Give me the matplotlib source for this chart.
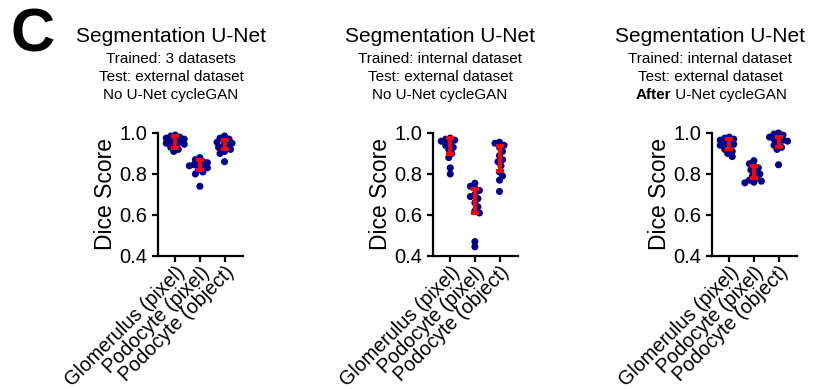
import numpy as np
import matplotlib
matplotlib.use("Agg")
import matplotlib.pyplot as plt

plt.rcParams['font.family'] = ['Liberation Sans', 'DejaVu Sans']

categories = ["Glomerulus (pixel)", "Podocyte (pixel)", "Podocyte (object)"]

p1_glom = [0.99, 0.985, 0.98, 0.975, 0.97, 0.965, 0.96, 0.955, 0.95, 0.945, 0.94, 0.93, 0.92, 0.91]
p1_podpix = [0.88, 0.87, 0.86, 0.855, 0.85, 0.845, 0.84, 0.835, 0.83, 0.82, 0.81, 0.80, 0.74]
p1_podobj = [0.985, 0.975, 0.97, 0.96, 0.955, 0.95, 0.94, 0.935, 0.93, 0.92, 0.91, 0.90, 0.86]
p1_mean = [0.956, 0.844, 0.944]
p1_sd = [0.029, 0.024, 0.022]

p2_glom = [0.975, 0.97, 0.965, 0.96, 0.95, 0.94, 0.93, 0.92, 0.90, 0.88, 0.83, 0.80]
p2_podpix = [0.755, 0.74, 0.73, 0.72, 0.70, 0.69, 0.68, 0.66, 0.64, 0.62, 0.61, 0.47, 0.445]
p2_podobj = [0.955, 0.95, 0.94, 0.93, 0.91, 0.89, 0.87, 0.86, 0.84, 0.81, 0.79, 0.77, 0.715]
p2_mean = [0.937, 0.668, 0.876]
p2_sd = [0.039, 0.058, 0.061]

p3_glom = [0.98, 0.975, 0.97, 0.965, 0.955, 0.95, 0.945, 0.94, 0.93, 0.92, 0.91, 0.90, 0.885]
p3_podpix = [0.865, 0.85, 0.84, 0.83, 0.82, 0.81, 0.80, 0.79, 0.78, 0.77, 0.765, 0.76, 0.757]
p3_podobj = [1.0, 0.995, 0.99, 0.98, 0.975, 0.97, 0.965, 0.96, 0.95, 0.94, 0.93, 0.92, 0.845]
p3_mean = [0.946, 0.81, 0.955]
p3_sd = [0.024, 0.03, 0.025]

titles = ["Segmentation U-Net"] * 3
sub1 = ["Trained: 3 datasets", "Trained: internal dataset", "Trained: internal dataset"]
sub2 = ["Test: external dataset"] * 3
sub3_bold = ["", "", "After"]
sub3_rest = ["No U-Net cycleGAN", "No U-Net cycleGAN", " U-Net cycleGAN"]

yticks = [0.4, 0.6, 0.8, 1.0]
ytick_labels = ["0.4", "0.6", "0.8", "1.0"]

panels = [
    ([p1_glom, p1_podpix, p1_podobj], p1_mean, p1_sd),
    ([p2_glom, p2_podpix, p2_podobj], p2_mean, p2_sd),
    ([p3_glom, p3_podpix, p3_podobj], p3_mean, p3_sd),
]

W, H = 813, 389
fig = plt.figure(figsize=(W / 100, H / 100), dpi=100)

ax_left_px = [158, 433, 712]
title_cx_px = [171, 440, 710]
ax_w_px = 85
ax_bottom_px = 256
ax_top_px = 133

navy = "#00008B"
red = "#FF0000"
sep_px = 4.6
step_px = 1.5


def swarm_offsets(ax, xc, ys, d_px, step):
    # simple beeswarm in pixel space with partial overlap allowed
    trans = ax.transData
    x0_px = trans.transform((xc, 0))[0]
    unit_px = trans.transform((xc + 1, 0))[0] - x0_px
    placed = []
    offs = [0.0] * len(ys)
    order = np.argsort(ys)[::-1]
    for n, i in enumerate(order):
        ypx = trans.transform((xc, ys[i]))[1]
        best = None
        k = 0
        while best is None:
            if k == 0:
                cands = [0.0]
            else:
                cands = [k * step, -k * step] if n % 2 == 0 else [-k * step, k * step]
            for c in cands:
                ok = all((px - c) ** 2 + (py - ypx) ** 2 >= d_px ** 2
                         for (px, py) in placed)
                if ok:
                    best = c
                    break
            k += 1
        placed.append((best, ypx))
        offs[i] = best / unit_px
    return offs


for pi, (groups, means, sds) in enumerate(panels):
    left = ax_left_px[pi] / W
    bottom = 1 - ax_bottom_px / H
    height = (ax_bottom_px - ax_top_px) / H
    ax = fig.add_axes([left, bottom, ax_w_px / W, height])
    ax.set_xlim(-0.7, 2.75)
    ax.set_ylim(0.4, 1.0)
    for s in ["top", "right"]:
        ax.spines[s].set_visible(False)
    for s in ["left", "bottom"]:
        ax.spines[s].set_linewidth(1.6)
    ax.tick_params(axis="both", width=1.6, length=4, direction="out")
    ax.tick_params(axis="x", pad=1)
    ax.set_yticks(yticks)
    ax.set_yticklabels(ytick_labels, fontsize=14.5)
    ax.set_xticks(range(len(categories)))
    ax.set_xticklabels(categories, fontsize=14.2, rotation=45, ha="right",
                       rotation_mode="anchor")
    ax.set_ylabel("Dice Score", fontsize=16.5, labelpad=2)

    for gi, ys in enumerate(groups):
        offs = swarm_offsets(ax, gi, ys, sep_px, step_px)
        xs = [gi + o for o in offs]
        ax.scatter(xs, ys, s=26, color=navy, edgecolors="none", zorder=3,
                   clip_on=False)
        ax.errorbar([gi], [means[gi]], yerr=[sds[gi]], fmt="none", ecolor=red,
                    elinewidth=2.8, capsize=3.2, capthick=2.8, zorder=4)

    cx = title_cx_px[pi] / W
    fig.text(cx, 1 - 37 / H, titles[pi], fontsize=15, ha="center", va="center")
    fig.text(cx, 1 - 59 / H, sub1[pi], fontsize=11, ha="center", va="center")
    fig.text(cx, 1 - 77 / H, sub2[pi], fontsize=11, ha="center", va="center")
    if sub3_bold[pi]:
        t = fig.text(cx, 1 - 95 / H, sub3_bold[pi] + sub3_rest[pi], fontsize=11,
                     ha="center", va="center", alpha=0)
        fig.canvas.draw()
        bb = t.get_window_extent()
        tb = fig.text(bb.x0 / W, 1 - 95 / H, sub3_bold[pi], fontsize=11,
                      fontweight="bold", ha="left", va="center")
        fig.canvas.draw()
        bb2 = tb.get_window_extent()
        fig.text(bb2.x1 / W, 1 - 95 / H, sub3_rest[pi], fontsize=11,
                 ha="left", va="center")
    else:
        fig.text(cx, 1 - 95 / H, sub3_rest[pi], fontsize=11, ha="center",
                 va="center")

fig.text(10 / W, 1 - 36 / H, "C", fontsize=44, fontweight="bold", ha="left",
         va="center")

fig.savefig("out.png", dpi=100)
